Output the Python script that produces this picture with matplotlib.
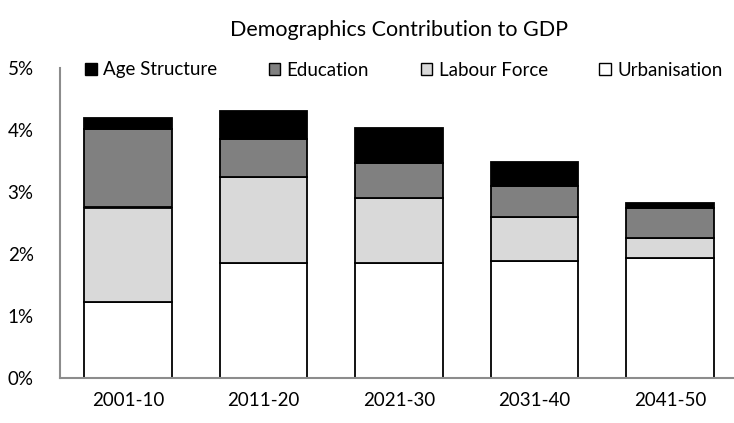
import matplotlib.pyplot as plt
from matplotlib.ticker import FuncFormatter

periods = ['2001-10', '2011-20', '2021-30', '2031-40', '2041-50']
urbanisation = [1.22, 1.85, 1.85, 1.88, 1.93]
labour_force = [1.53, 1.39, 1.06, 0.71, 0.32]
education = [1.27, 0.61, 0.56, 0.50, 0.49]
age_structure = [0.18, 0.46, 0.56, 0.40, 0.09]

plt.rcParams['font.family'] = ['Lato', 'DejaVu Sans']

W, H = 734, 423
fig = plt.figure(figsize=(W / 100, H / 100), dpi=100)
ax = fig.add_axes([60 / W, 45 / H, 678 / W, 310 / H])

series = [
    ('Urbanisation', urbanisation, 'white'),
    ('Labour Force', labour_force, '#d9d9d9'),
    ('Education', education, '#808080'),
    ('Age Structure', age_structure, 'black'),
]
x = range(len(periods))
bottom = [0.0] * len(periods)
handles = []
for name, vals, color in series:
    bars = ax.bar(x, vals, 0.645, bottom=bottom, color=color,
                  edgecolor='black', linewidth=1.3, label=name)
    handles.append(bars)
    bottom = [b + v for b, v in zip(bottom, vals)]

ax.set_xlim(-0.5, 4.5)
ax.set_ylim(0, 5)
ax.set_yticks(range(6))
ax.yaxis.set_major_formatter(FuncFormatter(lambda v, _: f'{v:.0f}%'))
ax.set_xticks(list(x))
ax.set_xticklabels(periods)
ax.tick_params(length=0, labelsize=13.5, colors='black')
ax.tick_params(axis='y', pad=19)
ax.tick_params(axis='x', pad=10)
for side in ('top', 'right'):
    ax.spines[side].set_visible(False)
for side in ('left', 'bottom'):
    ax.spines[side].set_color('#8c8c8c')
    ax.spines[side].set_linewidth(1.5)

fig.text(399 / W, 1 - 30 / H, 'Demographics Contribution to GDP',
         ha='center', va='center', fontsize=15.5)

leg = fig.legend(handles[::-1], [s[0] for s in series][::-1],
                 loc='center left', bbox_to_anchor=(76 / W, 1 - 70 / H),
                 ncol=4, frameon=False, fontsize=13.5, borderpad=0,
                 handlelength=0.6, handleheight=0.6, handletextpad=0.35,
                 columnspacing=2.75)
for p in leg.get_patches():
    p.set_linewidth(1.0)

fig.savefig('out.png', dpi=100)
